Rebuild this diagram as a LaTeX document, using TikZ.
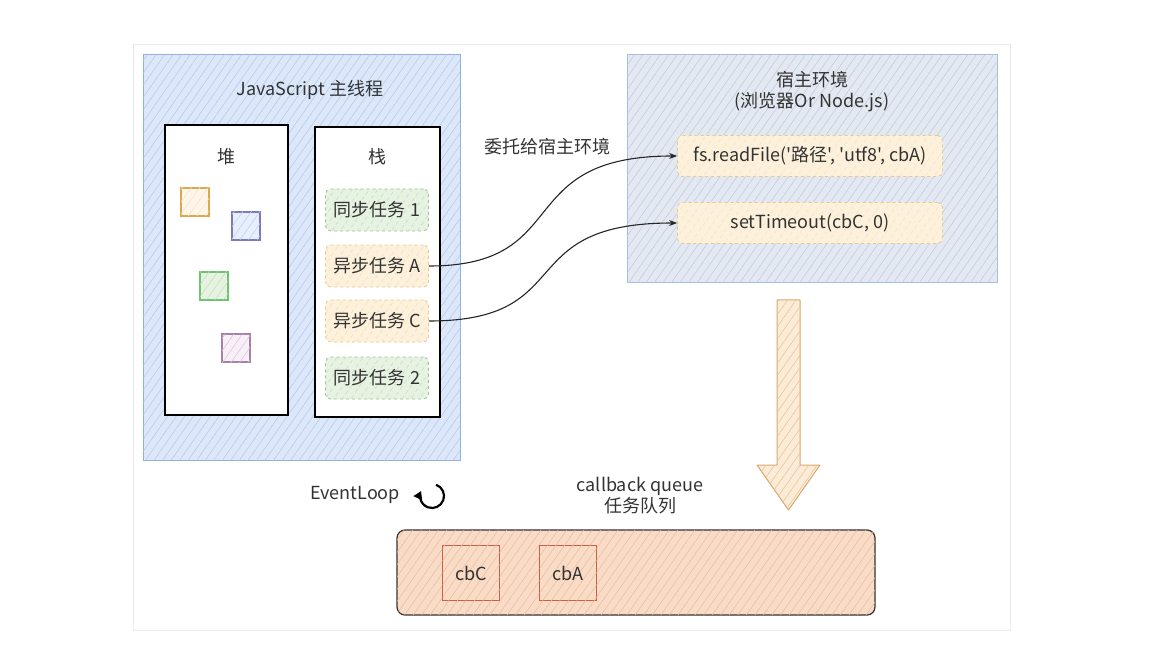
\documentclass[tikz,border=0pt]{standalone}
\usepackage{fontspec}
\setmainfont{Noto Sans CJK SC}[Ligatures=TeXOff]
\usepackage{xcolor}
\usetikzlibrary{arrows.meta,patterns.meta}

\definecolor{jsfill}{HTML}{DCE8FA}
\definecolor{jsline}{HTML}{8FB0E0}
\definecolor{hostfill}{HTML}{E4E8F0}
\definecolor{hostline}{HTML}{A8BEDF}
\definecolor{syncfill}{HTML}{E6F2E2}
\definecolor{syncline}{HTML}{9CC48A}
\definecolor{asyncfill}{HTML}{FDF1DC}
\definecolor{asyncline}{HTML}{E8C98A}
\definecolor{queuefill}{HTML}{F9DCC8}
\definecolor{queuehatch}{HTML}{F2B894}
\definecolor{cbline}{HTML}{C9604A}
\definecolor{arrowline}{HTML}{D9A86A}
\definecolor{txt}{HTML}{333333}

\begin{document}
\begin{tikzpicture}[x=1pt,y=-1pt,
    txtfont/.style={font=\fontsize{18}{21}\selectfont, text=txt},
    hatch/.style={postaction={pattern={Lines[angle=55,distance=7pt,line width=0.5pt]}, pattern color=#1}},
    panel/.style={draw=jsline, line width=1pt, fill=jsfill, hatch=jsline!70},
    column/.style={draw=black, line width=1.3pt, fill=white},
    task/.style={rounded corners=5pt, dashed, line width=0.8pt, minimum width=103pt, minimum height=42pt, txtfont, inner sep=2pt},
    synctask/.style={task, draw=syncline, fill=syncfill, hatch=syncline!60},
    asynctask/.style={task, draw=asyncline, fill=asyncfill, hatch=asyncline!60},
    hosttask/.style={task, draw=asyncline, fill=asyncfill, hatch=asyncline!50, minimum width=265pt, minimum height=41pt},
    heapsq/.style={minimum size=28pt, inner sep=0pt, line width=1.2pt},
    cbbox/.style={draw=cbline, line width=1.2pt, fill=queuefill, hatch=queuehatch, minimum width=57pt, minimum height=55pt, txtfont},
    conn/.style={line width=1.1pt, draw=black!85}
  ]
    \useasboundingbox (0,0) rectangle (1159,668);

    % Card
    \draw[black!8, line width=1pt, fill=white] (133,45) rectangle (1010,630);

    % JavaScript main thread
    \draw[panel] (143,55) rectangle (460,460);
    \node[txtfont] (jstitle) at (310,90) {JavaScript 主线程};

    % Heap
    \draw[column] (165,125) rectangle (288,415);
    \node[txtfont] (heaplbl) at (226,157) {堆};
    \node[heapsq, draw=orange!70!yellow!80!black!70, fill=orange!8, hatch=orange!25] (sqO) at (195,202) {};
    \node[heapsq, draw=blue!30!gray!80, fill=jsfill!70, hatch=jsline!60] (sqB) at (246,226) {};
    \node[heapsq, draw=green!40!gray!80, fill=syncfill, hatch=syncline!60] (sqG) at (214,286) {};
    \node[heapsq, draw=violet!40!gray!70, fill=violet!6, hatch=violet!25] (sqP) at (236,348) {};

    % Stack
    \draw[column] (315,127) rectangle (440,417);
    \node[txtfont] (stacklbl) at (377,157) {栈};
    \node[synctask] (sync1) at (377,210) {同步任务 1};
    \node[asynctask] (asyncA) at (377,266) {异步任务 A};
    \node[asynctask] (asyncC) at (377,321) {异步任务 C};
    \node[synctask] (sync2) at (377,378) {同步任务 2};

    % Host environment
    \draw[draw=hostline, line width=1pt, fill=hostfill, hatch=hostline!80] (627,55) rectangle (997,283);
    \node[txtfont, align=center] (hosttitle) at (812,92) {宿主环境\\(浏览器Or Node.js)};
    \node[hosttask] (readfile) at (810,156) {fs.readFile('路径', 'utf8', cbA)};
    \node[hosttask] (timeout) at (810,223) {setTimeout(cbC, 0)};

    % Delegation
    \node[txtfont] (delegate) at (547,147) {委托给宿主环境};
    \draw[conn, -{Stealth[length=8pt]}] (asyncA.east) .. controls (575,266) and (510,156) .. (readfile.west);
    \draw[conn, -{Stealth[length=8pt]}] (asyncC.east) .. controls (580,321) and (510,223) .. (timeout.west);

    % Down arrow
    \draw[arrowline, line width=1pt, fill=asyncfill!70!queuefill, hatch=arrowline!70, line join=round]
      (777,300) -- (800,300) -- (800,465) -- (820,465) -- (788.5,510) -- (757,465) -- (777,465) -- cycle;

    % Event loop
    \node[txtfont] (evloop) at (355,495) {EventLoop};
    \coordinate (loopc) at (432,496);
    \draw[line width=2.2pt, -{Triangle[length=8pt,width=9pt]}] ([shift={(70:12pt)}]loopc) arc[start angle=70, end angle=-205, radius=12pt];

    % Callback queue
    \node[txtfont, align=center] (cbqueue) at (640,496) {callback queue\\任务队列};
    \draw[rounded corners=8pt, draw=black!80, line width=1.2pt, fill=queuefill, hatch=queuehatch] (397,530) rectangle (875,615);
    \node[cbbox] (cbC) at (471,573) {cbC};
    \node[cbbox] (cbA) at (568,573) {cbA};
\end{tikzpicture}
\end{document}
